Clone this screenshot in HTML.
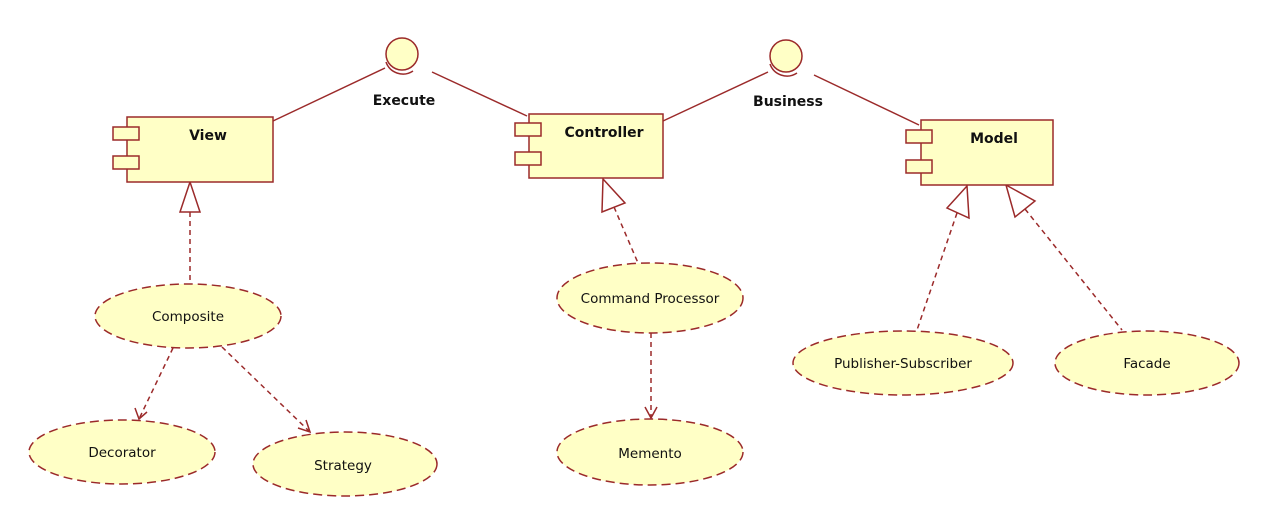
<!DOCTYPE html>
<html><head><meta charset="utf-8"><style>
html,body{margin:0;padding:0;background:#fff;}
svg{display:block;}
text{font-family:"DejaVu Sans","Liberation Sans",sans-serif;fill:#111;}
</style></head><body>
<svg width="1271" height="527" viewBox="0 0 1271 527" xmlns="http://www.w3.org/2000/svg">
<g stroke="#9b2a2a" stroke-width="1.5" fill="none">
<line x1="273" y1="121" x2="385" y2="68"/>
<line x1="432" y1="72" x2="527" y2="116"/>
<line x1="663" y1="121" x2="768" y2="72"/>
<line x1="814" y1="75" x2="919" y2="125"/>
<g stroke-dasharray="5,4">
<line x1="190" y1="212" x2="190" y2="284"/>
<line x1="614" y1="207" x2="638" y2="263"/>
<line x1="957" y1="213" x2="917" y2="330"/>
<line x1="1025" y1="209" x2="1122" y2="330"/>
<line x1="173" y1="348" x2="139" y2="419"/>
<line x1="222" y1="347" x2="310" y2="432"/>
<line x1="651" y1="333" x2="651" y2="418"/>
</g>
<polyline points="135,408 139,419 147,412"/>
<polyline points="298,428 310,432 306,420"/>
<polyline points="645,407 651,418 657,407"/>
</g>
<g stroke="#9b2a2a" stroke-width="1.5" fill="#fff">
<polygon points="190,182 180,212 200,212"/>
<polygon points="603,179 602,212 625,203"/>
<polygon points="967,186 947,208 969,218"/>
<polygon points="1006,185 1035,201 1015,217"/>
</g>
<g stroke="#9b2a2a" stroke-width="1.5" fill="#ffffc6">
<circle cx="402" cy="54" r="16"/>
<path d="M386,62 A18,18 0 0 0 413,71" fill="none"/>
<circle cx="786" cy="56" r="16"/>
<path d="M770,64 A18,18 0 0 0 797,73" fill="none"/>
<rect x="127" y="117" width="146" height="65"/>
<rect x="113" y="127" width="26" height="13"/>
<rect x="113" y="156" width="26" height="13"/>
<rect x="529" y="114" width="134" height="64"/>
<rect x="515" y="123" width="26" height="13"/>
<rect x="515" y="152" width="26" height="13"/>
<rect x="921" y="120" width="132" height="65"/>
<rect x="906" y="130" width="26" height="13"/>
<rect x="906" y="160" width="26" height="13"/>
</g>
<g stroke="#9b2a2a" stroke-width="1.5" fill="#ffffc6" stroke-dasharray="9,5">
<ellipse cx="188" cy="316" rx="93" ry="32"/>
<ellipse cx="122" cy="452" rx="93" ry="32"/>
<ellipse cx="345" cy="464" rx="92" ry="32"/>
<ellipse cx="650" cy="298" rx="93" ry="35"/>
<ellipse cx="650" cy="452" rx="93" ry="33"/>
<ellipse cx="903" cy="363" rx="110" ry="32"/>
<ellipse cx="1147" cy="363" rx="92" ry="32"/>
</g>
<g font-size="14" font-weight="bold">
<text x="404" y="105" text-anchor="middle">Execute</text>
<text x="788" y="106" text-anchor="middle">Business</text>
<text x="208" y="140" text-anchor="middle">View</text>
<text x="604" y="137" text-anchor="middle">Controller</text>
<text x="994" y="143" text-anchor="middle">Model</text>
</g>
<g font-size="13.5" text-anchor="middle">
<text x="188" y="321">Composite</text>
<text x="122" y="457">Decorator</text>
<text x="343" y="470">Strategy</text>
<text x="650" y="303">Command Processor</text>
<text x="650" y="458">Memento</text>
<text x="903" y="368">Publisher-Subscriber</text>
<text x="1147" y="368">Facade</text>
</g>
</svg>
</body></html>
